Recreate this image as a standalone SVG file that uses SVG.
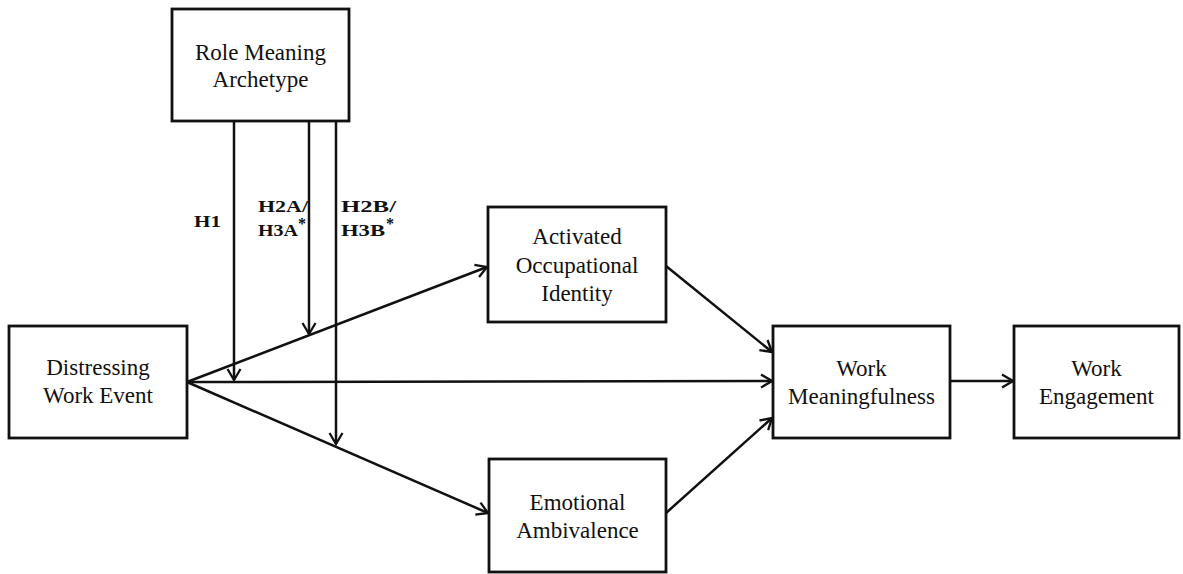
<svg xmlns="http://www.w3.org/2000/svg" width="1183" height="574" viewBox="0 0 1183 574">
<style>
.box{fill:#fff;stroke:#111;stroke-width:2.8}
.lbl{font-family:"Liberation Serif","Times New Roman",serif;font-size:23px;fill:#111;text-anchor:middle}
.h{font-family:"Liberation Serif","Times New Roman",serif;font-size:16px;font-weight:bold;fill:#111}
.c{stroke:#111;stroke-width:2.5;fill:none}
</style>
<defs>
<marker id="arr" markerUnits="userSpaceOnUse" markerWidth="14" markerHeight="16" viewBox="0 0 14 16" refX="12" refY="8" orient="auto">
<path d="M1,1.5 L12,8 L1,14.5" fill="none" stroke="#111" stroke-width="2.3"/>
</marker>
</defs>
<rect width="1183" height="574" fill="#fff"/>
<g id="connectors">
<line class="c" x1="234" y1="121" x2="234" y2="380" marker-end="url(#arr)"/>
<line class="c" x1="309" y1="121" x2="309" y2="334" marker-end="url(#arr)"/>
<line class="c" x1="336" y1="121" x2="336" y2="444" marker-end="url(#arr)"/>
<line class="c" x1="187" y1="382" x2="487" y2="267" marker-end="url(#arr)"/>
<line class="c" x1="187" y1="382" x2="772" y2="381" marker-end="url(#arr)"/>
<line class="c" x1="187" y1="382" x2="488" y2="513" marker-end="url(#arr)"/>
<line class="c" x1="666" y1="266" x2="772" y2="352" marker-end="url(#arr)"/>
<line class="c" x1="666" y1="513" x2="772" y2="418" marker-end="url(#arr)"/>
<line class="c" x1="950" y1="381" x2="1013" y2="381" marker-end="url(#arr)"/>
</g>
<g id="labels">
<text class="h" x="194" y="227" textLength="27" lengthAdjust="spacingAndGlyphs">H1</text>
<text class="h" x="258" y="212" textLength="50" lengthAdjust="spacingAndGlyphs">H2A/</text>
<text class="h" x="258" y="236" textLength="40" lengthAdjust="spacingAndGlyphs">H3A</text>
<text class="h" x="298" y="229" font-size="14">*</text>
<text class="h" x="341" y="212" textLength="55" lengthAdjust="spacingAndGlyphs">H2B/</text>
<text class="h" x="341" y="236" textLength="44" lengthAdjust="spacingAndGlyphs">H3B</text>
<text class="h" x="386" y="229" font-size="14">*</text>
</g>
<g id="role">
<rect class="box" x="172" y="9" width="177" height="112"/>
<text class="lbl" x="260.5" y="60">Role Meaning</text>
<text class="lbl" x="260.5" y="87">Archetype</text>
</g>
<g id="distressing">
<rect class="box" x="9" y="326" width="178" height="112"/>
<text class="lbl" x="98" y="375">Distressing</text>
<text class="lbl" x="98" y="403">Work Event</text>
</g>
<g id="activated">
<rect class="box" x="488" y="207" width="178" height="115"/>
<text class="lbl" x="577" y="244">Activated</text>
<text class="lbl" x="577" y="273">Occupational</text>
<text class="lbl" x="577" y="301">Identity</text>
</g>
<g id="emotional">
<rect class="box" x="489" y="459" width="177" height="113"/>
<text class="lbl" x="577.5" y="510">Emotional</text>
<text class="lbl" x="577.5" y="538">Ambivalence</text>
</g>
<g id="meaningfulness">
<rect class="box" x="773" y="326" width="177" height="112"/>
<text class="lbl" x="861.5" y="376">Work</text>
<text class="lbl" x="861.5" y="404">Meaningfulness</text>
</g>
<g id="engagement">
<rect class="box" x="1014" y="326" width="165" height="112"/>
<text class="lbl" x="1096.5" y="376">Work</text>
<text class="lbl" x="1096.5" y="404">Engagement</text>
</g>
</svg>
